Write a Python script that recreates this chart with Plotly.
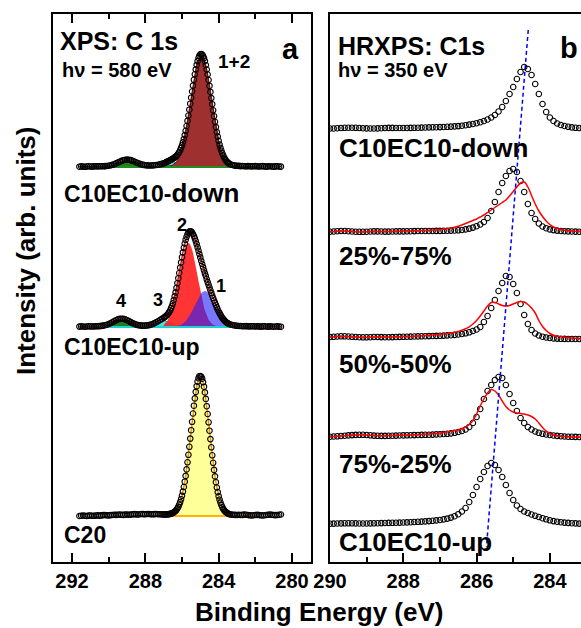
import plotly.graph_objects as go

FONT = "Liberation Sans, Arial, Helvetica, sans-serif"

# ---------------- panel a : binding-energy grid (eV) ----------------
E_LEFT = [291.6, 291.5, 291.4, 291.3, 291.2, 291.1, 291.0, 290.9, 290.8, 290.7,
          290.6, 290.5, 290.4, 290.3, 290.2, 290.1, 290.0, 289.9, 289.8, 289.7,
          289.6, 289.5, 289.4, 289.3, 289.2, 289.1, 289.0, 288.9, 288.8, 288.7,
          288.6, 288.5, 288.4, 288.3, 288.2, 288.1, 288.0, 287.9, 287.8, 287.7,
          287.6, 287.5, 287.4, 287.3, 287.2, 287.1]
E_MID = [287.0, 286.95, 286.9, 286.85, 286.8, 286.75, 286.7, 286.65, 286.6, 286.55, 286.5, 286.45,
         286.4, 286.35, 286.3, 286.25, 286.2, 286.15, 286.1, 286.05, 286.0, 285.95, 285.9, 285.85,
         285.8, 285.75, 285.7, 285.65, 285.6, 285.55, 285.5, 285.45, 285.4, 285.35, 285.3, 285.25,
         285.2, 285.15, 285.1, 285.05, 285.0, 284.95, 284.9, 284.85, 284.8, 284.75, 284.7, 284.65,
         284.6, 284.55, 284.5, 284.45, 284.4, 284.35, 284.3, 284.25, 284.2, 284.15, 284.1, 284.05,
         284.0, 283.95, 283.9, 283.85, 283.8, 283.75, 283.7, 283.65, 283.6, 283.55, 283.5, 283.45, 283.4]
E_RIGHT = [283.3, 283.2, 283.1, 283.0, 282.9, 282.8, 282.7, 282.6, 282.5, 282.4, 282.3, 282.2, 282.1, 282.0,
           281.9, 281.8, 281.7, 281.6, 281.5, 281.4, 281.3, 281.2, 281.1, 281.0, 280.9, 280.8, 280.7, 280.6]
E_A = E_LEFT + E_MID + E_RIGHT

# C10EC10-down (XPS, 580 eV)
DOWN_COUNTS = ([0.3, 0.6, 0.4, 0.2, 0.5, 0.7, 0.5, 0.4, 0.6, 0.8, 0.6, 0.7, 0.8, 0.7, 0.9, 1.0, 1.3, 1.7, 2.2, 2.8,
                3.6, 4.4, 5.3, 6.1, 6.8, 7.2, 7.4, 7.3, 6.9, 6.2, 5.5, 4.6, 3.8, 3.1, 2.5, 2.1, 1.8, 1.6, 1.5, 1.5,
                1.6, 1.8, 2.0, 2.3, 2.7, 3.1]
               + [3.6, 4.0, 4.4, 4.9, 5.4, 5.8, 6.3, 6.8, 7.3, 7.8, 8.3, 8.9, 9.6, 10.3, 11.1, 12.2, 13.5, 15.0, 16.8, 19.1,
                  21.6, 24.6, 28.0, 31.9, 36.2, 41.0, 46.1, 51.5, 57.3, 63.3, 69.3, 75.5, 81.4, 87.2, 92.7, 97.6, 102.1, 105.9,
                  109.0, 111.3, 112.6, 113.0, 112.5, 111.2, 108.9, 105.8, 102.0, 97.5, 92.5, 87.0, 81.1, 75.1, 68.9, 62.8,
                  56.7, 50.8, 45.2, 39.9, 34.9, 30.4, 26.2, 22.4, 19.1, 16.2, 13.6, 11.4, 9.5, 7.9, 6.5, 5.4, 4.5, 3.7, 3.1]
               + [2.3, 1.8, 1.4, 1.2, 1.1, 0.9, 1.0, 0.8, 0.7, 0.9, 0.8, 0.6, 0.8, 0.9, 0.7, 0.5, 0.7, 0.9, 0.6, 0.4,
                  0.6, 0.8, 0.5, 0.4, 0.6, 0.7, 0.5, 0.4])
DOWN_MAIN = [0.1, 0.2, 0.2, 0.3, 0.4, 0.5, 0.7, 0.9, 1.2, 1.6, 2.1, 2.7, 3.5, 4.4, 5.5, 6.9, 8.5, 10.4, 12.6, 15.2,
             18.1, 21.4, 25.2, 29.4, 33.9, 38.9, 44.2, 49.8, 55.7, 61.8, 67.9, 74.1, 80.1, 86.0, 91.5, 96.5, 101.0,
             104.8, 107.9, 110.2, 111.5, 112.0, 111.5, 110.2, 107.9, 104.8, 101.0, 96.5, 91.5, 86.0, 80.1, 74.1, 67.9,
             61.8, 55.7, 49.8, 44.2, 38.9, 33.9, 29.4, 25.2, 21.4, 18.1, 15.2, 12.6, 10.4, 8.5, 6.9, 5.5, 4.4, 3.5, 2.7, 2.1]
DOWN_GREEN = [0, 0, 0, 0, 0, 0, 0, 0, 0, 0, 0,
              0.03, 0.05, 0.1, 0.19, 0.33, 0.55, 0.88, 1.34, 1.94, 2.7, 3.5, 4.4, 5.2, 5.9, 6.35, 6.5, 6.35, 5.9,
              5.2, 4.4, 3.5, 2.7, 1.94, 1.34, 0.88, 0.55, 0.33, 0.19, 0.1, 0.05, 0.03,
              0, 0, 0, 0]
DOWN_CYAN = ([0, 0, 0, 0, 0, 0, 0, 0, 0, 0, 0, 0, 0, 0, 0, 0, 0, 0, 0, 0,
              0, 0, 0, 0, 0, 0, 0, 0, 0, 0, 0, 0, 0, 0, 0, 0, 0, 0, 0, 0,
              0.11, 0.22, 0.4, 0.68, 1.08, 1.63]
             + [2.3, 2.65, 3.0, 3.4, 3.8, 4.1, 4.4, 4.7, 4.85, 4.96, 5.0, 4.96, 4.85, 4.7, 4.4, 4.1, 3.8, 3.4, 3.0, 2.65,
                2.3, 1.95, 1.6, 1.3, 1.1, 0.86, 0.68, 0.52, 0.4, 0.3, 0.22, 0.16, 0.11,
                0, 0, 0, 0, 0, 0, 0, 0, 0, 0, 0, 0, 0, 0, 0, 0, 0, 0, 0, 0,
                0, 0, 0, 0, 0, 0, 0, 0, 0, 0, 0, 0, 0, 0, 0, 0, 0, 0, 0, 0])
DOWN_BG_RANGE = [291.1, 281.9]

# C10EC10-up (XPS, 580 eV) with components 1-4
UP_COUNTS = ([0.4, 0.6, 0.5, 0.3, 0.5, 0.7, 0.6, 0.5, 0.6, 0.7, 0.8, 0.9, 1.1, 1.4, 1.8, 2.3, 3.0, 3.8, 4.8, 5.8,
              6.8, 7.6, 8.1, 8.3, 8.1, 7.6, 6.8, 5.9, 4.9, 3.9, 3.1, 2.4, 1.9, 1.6, 1.4, 1.4, 1.4, 1.6, 1.9, 2.4,
              3.0, 3.9, 4.8, 5.8, 7.0, 8.1]
             + [9.2, 9.9, 10.5, 11.3, 12.3, 13.5, 14.8, 16.5, 18.6, 21.0, 23.7, 27.0, 30.7, 34.6, 39.1, 43.8, 48.8, 54.0,
                59.3, 64.6, 69.8, 74.6, 79.2, 83.5, 87.2, 90.2, 92.7, 94.4, 95.5, 95.8, 95.5, 94.5, 93.0, 91.0, 88.6, 85.8,
                82.8, 79.6, 76.3, 72.9, 69.6, 66.2, 63.0, 59.8, 56.7, 53.6, 50.8, 47.7, 44.9, 42.2, 39.5, 36.7, 34.1, 31.5,
                29.0, 26.5, 24.1, 21.8, 19.6, 17.5, 15.5, 13.8, 12.1, 10.5, 9.1, 7.9, 6.8, 5.9, 5.0, 4.3, 3.7, 3.2, 2.8]
             + [2.3, 1.8, 1.5, 1.2, 1.0, 1.0, 0.8, 0.8, 0.9, 0.7, 0.6, 0.8, 0.7, 0.5, 0.7, 0.6, 0.4, 0.6, 0.7, 0.5,
                0.4, 0.6, 0.5, 0.3, 0.5, 0.6, 0.4, 0.3])
UP_C2 = [2.2, 2.9, 3.7, 4.7, 6.0, 7.5, 9.2, 11.3, 13.9, 16.6, 19.8, 23.4, 27.3, 31.5, 36.1, 40.9, 45.9, 51.0, 56.0,
         61.0, 65.8, 70.1, 74.1, 77.5, 80.3, 82.3, 83.6, 84.0, 83.6, 82.3, 80.3, 77.5, 74.1, 70.1, 65.8, 61.0, 56.0,
         51.0, 45.9, 40.9, 36.1, 31.5, 27.3, 23.4, 19.8, 16.6, 13.9, 11.3, 9.2, 7.5, 6.0, 4.7, 3.7, 2.9, 2.2, 1.7, 1.3,
         0.9, 0.7, 0.5, 0.3, 0.25, 0.2, 0.1, 0, 0, 0, 0, 0, 0, 0, 0, 0]
UP_C1 = [0, 0, 0, 0, 0, 0.05, 0.1, 0.1, 0.1, 0.2, 0.2, 0.3, 0.4, 0.5, 0.7, 0.9, 1.1, 1.4, 1.8, 2.2, 2.7, 3.3, 4.0,
         4.9, 5.8, 6.9, 8.1, 9.4, 10.9, 12.5, 14.2, 16.0, 17.9, 19.9, 21.8, 23.8, 25.8, 27.6, 29.4, 31.0, 32.5, 33.7,
         34.7, 35.4, 35.9, 36.0, 35.9, 35.4, 34.7, 33.7, 32.5, 31.0, 29.4, 27.6, 25.8, 23.8, 21.8, 19.9, 17.9, 16.0,
         14.2, 12.5, 10.9, 9.4, 8.1, 6.9, 5.8, 4.9, 4.0, 3.3, 2.7, 2.2, 1.8]
UP_C3 = ([0, 0, 0, 0, 0, 0, 0, 0, 0, 0, 0, 0, 0, 0, 0, 0, 0, 0, 0, 0,
          0, 0, 0, 0, 0, 0, 0, 0, 0, 0, 0, 0, 0,
          0.03, 0.07, 0.14, 0.26, 0.48, 0.81, 1.3, 1.95, 2.75, 3.64, 4.53, 5.3, 5.81]
         + [6.0, 5.95, 5.8, 5.6, 5.3, 4.9, 4.5, 4.1, 3.6, 3.2, 2.7, 2.3, 1.95, 1.6, 1.3, 1.0, 0.8, 0.6, 0.5, 0.4,
            0.26, 0.2, 0.14, 0.1, 0.07,
            0, 0, 0, 0, 0, 0, 0, 0, 0, 0, 0, 0, 0, 0, 0, 0, 0, 0, 0, 0, 0, 0, 0, 0,
            0, 0, 0, 0, 0, 0, 0, 0, 0, 0, 0, 0, 0, 0, 0, 0, 0, 0, 0, 0, 0, 0, 0, 0])
UP_C4 = [0, 0, 0, 0, 0, 0, 0, 0,
         0.03, 0.06, 0.11, 0.21, 0.37, 0.63, 1.01, 1.55, 2.24, 3.08, 4.04, 5.05, 6.0, 6.8, 7.32, 7.5, 7.32, 6.8,
         6.0, 5.05, 4.04, 3.08, 2.24, 1.55, 1.01, 0.63, 0.37, 0.21, 0.11, 0.06, 0.03,
         0, 0, 0, 0, 0, 0, 0]
UP_BG_RANGE = [291.0, 281.9]

# C20 (XPS, 580 eV)
C20_COUNTS = ([0.0, 0.3, 0.5, 0.2, 0.0, 0.4, 0.5, 0.3, 0.2, 0.5, 0.6, 0.4, 0.6, 0.9, 1.0, 0.7, 0.6, 0.9, 1.0, 1.2,
               1.1, 1.3, 1.5, 1.2, 1.1, 1.4, 1.5, 1.3, 1.4, 1.7, 1.9, 1.6, 1.5, 1.8, 2.0, 1.9, 1.8, 2.0, 2.0, 1.8,
               1.7, 1.9, 2.0, 1.8, 1.8, 1.6]
              + [1.5, 1.5, 1.5, 1.6, 1.7, 1.8, 1.9, 2.1, 2.3, 2.6, 3.0, 3.6, 4.3, 5.1, 6.2, 7.6, 9.3, 11.4, 13.9, 16.8,
                 20.3, 24.4, 29.0, 34.3, 40.1, 46.6, 53.7, 61.2, 69.2, 77.4, 85.8, 94.2, 102.5, 110.3, 117.6, 124.1, 129.8,
                 134.4, 137.8, 139.8, 140.0, 139.3, 137.3, 133.9, 129.3, 123.6, 117.1, 109.8, 102.0, 93.7, 85.3, 76.9,
                 68.7, 60.7, 53.2, 46.1, 39.6, 33.8, 28.5, 23.9, 19.8, 16.3, 13.4, 10.9, 8.8, 7.1, 5.7, 4.6, 3.8, 3.1,
                 2.5, 2.1, 1.8]
              + [1.4, 1.3, 1.1, 1.0, 1.2, 1.0, 1.1, 1.5, 1.2, 1.0, 0.7, 0.5, 0.8, 1.0, 1.1, 1.0, 0.7, 0.5, 0.8, 1.0,
                 1.3, 1.5, 1.2, 1.0, 0.9, 1.0, 1.3, 1.5])
C20_FIT = [1.0, 1.0, 1.0, 1.1, 1.2, 1.3, 1.4, 1.6, 1.8, 2.1, 2.5, 3.1, 3.8, 4.6, 5.7, 7.1, 8.8, 10.9, 13.4, 16.3,
           19.8, 23.9, 28.5, 33.8, 39.6, 46.1, 53.2, 60.7, 68.7, 76.9, 85.3, 93.7, 102.0, 109.8, 117.1, 123.6, 129.3,
           133.9, 137.3, 139.3, 140.0, 139.3, 137.3, 133.9, 129.3, 123.6, 117.1, 109.8, 102.0, 93.7, 85.3, 76.9, 68.7,
           60.7, 53.2, 46.1, 39.6, 33.8, 28.5, 23.9, 19.8, 16.3, 13.4, 10.9, 8.8, 7.1, 5.7, 4.6, 3.8, 3.1, 2.5, 2.1, 1.8]
C20_BG_RANGE = [288.0, 281.9]

# ---------------- panel b : HRXPS, 350 eV ----------------
E_B = [290.0, 289.9, 289.8, 289.7, 289.6, 289.5, 289.4, 289.3, 289.2, 289.1, 289.0, 288.9, 288.8, 288.7, 288.6,
       288.5, 288.4, 288.3, 288.2, 288.1, 288.0, 287.9, 287.8, 287.7, 287.6, 287.5, 287.4, 287.3, 287.2, 287.1,
       287.0, 286.9, 286.8, 286.7, 286.6, 286.5, 286.4, 286.3, 286.2, 286.1, 286.0, 285.9, 285.8, 285.7, 285.6,
       285.5, 285.4, 285.3, 285.2, 285.1, 285.0, 284.9, 284.8, 284.7, 284.6, 284.5, 284.4, 284.3, 284.2, 284.1,
       284.0, 283.9, 283.8, 283.7, 283.6, 283.5, 283.4, 283.3, 283.2, 283.1, 283.0]
HR_DOWN = ([0.5, 0.5, 0.8, 1.0, 1.2, 1.3, 1.3, 1.2, 1.0, 0.8, 0.6, 0.5, 0.5, 0.6, 0.8, 1.0, 1.1, 1.1, 1.0, 1.0,
            1.0, 1.0, 1.1, 1.2, 1.3, 1.4, 1.5, 1.6, 1.7, 1.8, 1.9]
           + [2.0, 2.2, 2.4, 2.6, 2.9, 3.3, 3.8, 4.4, 5.0, 5.8, 6.8, 8.0, 9.5, 11.5, 14.0, 17.5, 22.0, 28.0, 35.0,
              42.0, 50.0, 57.0, 62.0, 60.0, 54.0, 45.0, 35.0, 25.0, 17.0, 11.5, 8.0, 5.5, 4.0, 3.0, 2.2, 1.6, 1.2,
              1.0, 0.9, 0.8])
HR_25 = ([0.3, 0.5, 0.8, 1.0, 1.0, 0.8, 0.5, 0.3, 0.2, 0.2, 0.3, 0.5, 0.6, 0.6, 0.5, 0.4, 0.4, 0.5, 0.6, 0.6,
          0.6, 0.7, 0.8, 0.9, 1.0, 1.0, 1.0, 1.0, 1.0, 1.1, 1.1]
         + [1.2, 1.3, 1.4, 1.5, 1.7, 2.0, 2.6, 3.4, 4.4, 5.8, 7.5, 10.0, 14.0, 21.0, 30.0, 40.0, 49.0, 56.0, 61.0,
            63.0, 60.0, 51.0, 40.0, 28.0, 19.0, 13.0, 8.5, 5.5, 3.8, 2.6, 1.9, 1.4, 1.0, 0.8, 0.6, 0.5, 0.4, 0.3,
            0.3, 0.3])
HR_25_SUM = ([0.3, 0.5, 0.7, 0.9, 0.9, 0.7, 0.4, 0.2, 0.1, 0.1, 0.2, 0.4, 0.5, 0.5, 0.5, 0.5, 0.5, 0.6, 0.7, 0.8,
              0.9, 1.0, 1.1, 1.2, 1.3, 1.4, 1.5, 1.7, 1.9, 2.1, 2.4]
             + [2.8, 3.3, 3.9, 4.7, 5.7, 7.0, 8.5, 10.0, 11.5, 13.0, 15.0, 17.0, 19.5, 22.0, 24.5, 27.0, 29.5, 32.0,
                36.0, 40.5, 45.0, 49.0, 50.0, 45.0, 36.5, 28.0, 21.0, 15.5, 11.0, 7.5, 5.0, 3.5, 2.5, 1.8, 1.3, 1.0,
                0.8, 0.7, 0.6, 0.6])
HR_50 = ([2.0, 2.2, 2.5, 2.7, 2.7, 2.5, 2.2, 2.0, 1.8, 1.7, 1.7, 1.8, 2.0, 2.0, 1.9, 1.8, 1.8, 1.9, 2.0, 2.1,
          2.2, 2.3, 2.4, 2.5, 2.6, 2.7, 2.8, 2.9, 3.0, 3.1, 3.2]
         + [3.4, 3.6, 3.8, 4.1, 4.5, 5.0, 5.7, 6.7, 8.0, 9.5, 12.0, 17.0, 23.0, 31.0, 39.0, 48.0, 56.0, 63.0, 62.0,
            55.0, 46.0, 35.0, 24.0, 15.0, 9.0, 5.5, 3.5, 2.3, 1.5, 1.0, 0.6, 0.4, 0.2, 0.1, 0.0, 0.0, 0.0, 0.0,
            0.0, 0.0])
HR_50_SUM = ([2.0, 2.2, 2.4, 2.6, 2.6, 2.4, 2.1, 1.9, 1.7, 1.6, 1.6, 1.8, 2.0, 2.0, 2.0, 2.0, 2.0, 2.1, 2.2, 2.3,
              2.4, 2.5, 2.6, 2.8, 3.0, 3.2, 3.4, 3.7, 4.0, 4.3, 4.6]
             + [5.0, 5.5, 6.0, 6.7, 7.5, 8.7, 10.2, 12.2, 15.0, 18.5, 23.0, 28.0, 33.0, 36.5, 36.5, 35.0, 33.5, 33.0,
                33.5, 35.0, 36.5, 37.5, 37.0, 34.5, 31.0, 26.0, 18.5, 12.5, 8.5, 5.5, 3.8, 2.8, 2.2, 1.8, 1.4, 1.0,
                0.7, 0.5, 0.4, 0.3])
HR_75 = ([0.3, 0.5, 0.7, 1.0, 1.3, 1.6, 1.9, 2.1, 2.2, 2.2, 2.0, 1.7, 1.4, 1.2, 1.1, 1.1, 1.2, 1.3, 1.4, 1.5,
          1.6, 1.7, 1.8, 1.9, 2.0, 2.1, 2.2, 2.3, 2.4, 2.6, 2.8]
         + [3.0, 3.2, 3.6, 4.2, 5.0, 6.0, 7.5, 10.0, 14.0, 20.0, 28.0, 38.0, 46.0, 52.0, 57.0, 60.0, 59.0, 52.0,
            43.0, 34.0, 26.0, 19.0, 14.0, 10.0, 7.5, 5.5, 4.2, 3.2, 2.5, 2.0, 1.5, 1.1, 0.8, 0.5, 0.3, 0.2, 0.1,
            0.0, 0.0, 0.0])
HR_75_SUM = ([0.3, 0.5, 0.7, 1.0, 1.3, 1.6, 1.9, 2.1, 2.2, 2.2, 2.0, 1.7, 1.4, 1.3, 1.3, 1.3, 1.4, 1.5, 1.6, 1.7,
              1.8, 1.9, 2.0, 2.2, 2.4, 2.6, 2.8, 3.0, 3.3, 3.6, 4.0]
             + [4.4, 4.9, 5.5, 6.2, 7.0, 8.2, 10.0, 12.5, 16.5, 23.0, 31.0, 38.0, 44.0, 47.5, 46.0, 42.0, 36.0, 30.5,
                27.0, 25.0, 24.0, 23.5, 23.0, 22.0, 20.5, 18.0, 14.0, 9.5, 6.0, 3.5, 2.0, 1.2, 0.7, 0.4, 0.2, 0.1,
                0.0, 0.0, 0.0, 0.0])
HR_UP = ([0.3, 0.4, 0.5, 0.6, 0.7, 0.7, 0.7, 0.6, 0.5, 0.5, 0.5, 0.6, 0.7, 0.8, 0.9, 1.0, 1.1, 1.2, 1.3, 1.4,
          1.5, 1.6, 1.8, 2.0, 2.2, 2.4, 2.6, 2.9, 3.2, 3.6, 4.0]
         + [4.6, 5.4, 6.4, 7.8, 9.8, 12.5, 16.0, 22.0, 29.0, 37.0, 45.0, 52.0, 58.0, 61.0, 59.0, 54.0, 47.0, 39.0,
            31.0, 24.0, 18.5, 15.0, 12.5, 11.0, 9.5, 8.2, 7.0, 5.8, 4.7, 3.7, 2.9, 2.3, 1.8, 1.4, 1.1, 0.8, 0.6,
            0.4, 0.3, 0.2])
# peak-shift guide (energy, level)
GUIDE_E = [284.59, 285.73]
GUIDE_Y = [532, 15]

# tick labels
A_TICKS = [292, 288, 284, 280]
B_TICKS = [290, 288, 286, 284]

# ---------------- layout constants ----------------
W, H = 581, 628
ML, MR, MT, MB = 53, 0, 14, 66
PW, PH = W - ML - MR, H - MT - MB
A_OFF = {"down": 395, "up": 235, "c20": 46}
B_OFF = {"down": 433, "25": 330, "50": 223, "75": 125, "up": 38}

fig = go.Figure()


def area(xs, vals, base, fill, edge, xa="x", ya="y", ew=1.0):
    xs = list(xs)
    fig.add_trace(go.Scatter(x=xs + xs[::-1], y=[base + v for v in vals] + [base] * len(xs),
                             mode="lines", fill="toself", fillcolor=fill, line=dict(width=0),
                             xaxis=xa, yaxis=ya, hoverinfo="skip", showlegend=False))
    if edge:
        fig.add_trace(go.Scatter(x=xs, y=[base + v for v in vals], mode="lines",
                                 line=dict(color=edge, width=ew), xaxis=xa, yaxis=ya,
                                 hoverinfo="skip", showlegend=False))


def line(xs, vals, base, color, width, xa="x", ya="y", dash=None, shape="linear"):
    fig.add_trace(go.Scatter(x=list(xs), y=[base + v for v in vals], mode="lines",
                             line=dict(color=color, width=width, dash=dash, shape=shape),
                             xaxis=xa, yaxis=ya, hoverinfo="skip", showlegend=False))


def circles(xs, vals, base, xa="x", ya="y", size=5.5):
    fig.add_trace(go.Scatter(x=list(xs), y=[base + v for v in vals], mode="markers",
                             marker=dict(symbol="circle-open", size=size, color="black",
                                         line=dict(width=1.1, color="black")),
                             xaxis=xa, yaxis=ya, hoverinfo="skip", showlegend=False))


GREEN, GREEN_E = "#1E7F1E", "#0E5E0E"
CYAN, CYAN_E = "#3FE6E6", "#12B5B5"

# --- C10EC10-down ---
b = A_OFF["down"]
area(E_LEFT, DOWN_GREEN, b, GREEN, GREEN_E)
area(E_LEFT + E_MID, DOWN_CYAN, b, CYAN, CYAN_E)
area(E_MID, DOWN_MAIN, b, "#9E3030", "#5E1010")
line(DOWN_BG_RANGE, [0, 0], b, "#1E8F1E", 2)
line(E_A, DOWN_COUNTS, b, "#5A1515", 1)
circles(E_A, DOWN_COUNTS, b)

# --- C10EC10-up ---
b = A_OFF["up"]
area(E_LEFT, UP_C4, b, GREEN, GREEN_E)
area(E_LEFT + E_MID, UP_C3, b, CYAN, CYAN_E)
area(E_MID, UP_C2, b, "rgba(255,25,25,0.88)", None)
area(E_MID, UP_C1, b, "rgba(30,30,255,0.6)", None)
line(UP_BG_RANGE, [0, 0], b, "#20D0D0", 2)
line(E_A, UP_COUNTS, b, "#C01818", 1.4)
circles(E_A, UP_COUNTS, b)

# --- C20 ---
b = A_OFF["c20"]
area(E_MID, C20_FIT, b, "#FFFF99", "#E39A00", ew=1.5)
line(C20_BG_RANGE, [0, 0], b, "#FFB300", 2)
circles(E_A, C20_COUNTS, b)

# --- panel b ---
for key, data, fit in [("down", HR_DOWN, None), ("25", HR_25, HR_25_SUM), ("50", HR_50, HR_50_SUM),
                       ("75", HR_75, HR_75_SUM), ("up", HR_UP, None)]:
    b = B_OFF[key]
    circles(E_B, data, b, "x2", "y2", size=5.5)
    if fit is not None:
        line(E_B, fit, b, "#FF0000", 1.5, "x2", "y2", shape="spline")
line(GUIDE_E, GUIDE_Y, 0, "#0000FF", 1.5, "x2", "y2", dash="4px,3px")

# ---------------- axes ----------------
tickfont = dict(family=FONT, size=20, color="black", weight="bold")
common_x = dict(showgrid=False, zeroline=False, showline=True, linewidth=2, linecolor="black",
                ticks="inside", ticklen=9, tickwidth=2, tickcolor="black", tickfont=tickfont,
                tickmode="array")
fig.update_layout(
    width=W, height=H, margin=dict(l=ML, r=MR, t=MT, b=MB),
    paper_bgcolor="white", plot_bgcolor="white", showlegend=False,
    xaxis=dict(domain=[0, (311 - ML) / PW], range=[293.04, 278.96],
               tickvals=A_TICKS, ticktext=[f"<b>{t}</b>" for t in A_TICKS],
               mirror="allticks", anchor="y",
               minor=dict(ticks="inside", ticklen=5, tickwidth=2, tickcolor="black", dtick=2, tick0=280),
               **common_x),
    xaxis2=dict(domain=[(330 - ML) / PW, 1], range=[290.0, 283.15],
                tickvals=B_TICKS, ticktext=[f"<b>{t}</b>" for t in B_TICKS],
                mirror=True, anchor="y2",
                minor=dict(ticks="inside", ticklen=5, tickwidth=2, tickcolor="black", dtick=1, tick0=283),
                **common_x),
    yaxis=dict(domain=[0, 1], range=[0, PH], showgrid=False, zeroline=False, showticklabels=False,
               ticks="", showline=True, mirror=True, linewidth=2, linecolor="black", anchor="x"),
    yaxis2=dict(domain=[0, 1], range=[0, PH], showgrid=False, zeroline=False, showticklabels=False,
                ticks="", showline=True, mirror=False, linewidth=2, linecolor="black", anchor="x2"),
)


def px_x(px):
    return (px - ML) / PW


def px_y(py):
    return (MT + PH - py) / PH


def label(text, px, py, size, xanchor="left", angle=0):
    fig.add_annotation(text=f"<b>{text}</b>", x=px_x(px), y=px_y(py), xref="paper", yref="paper",
                       xanchor=xanchor, yanchor="middle", showarrow=False, textangle=angle,
                       font=dict(family=FONT, size=size, color="black"))


# panel a texts
label("XPS: C 1s", 58, 41, 25)
label("hν = 580 eV", 60, 70, 20)
label("a", 290, 49, 29, "center")
label("1+2", 234, 61, 19, "center")
label("C10EC10-<span style='font-size:26px'>down</span>", 62, 193, 23)
label("2", 182, 225, 18, "center")
label("1", 221, 286, 18, "center")
label("3", 158, 300, 18, "center")
label("4", 121, 301, 18, "center")
label("C10EC10-up", 62, 347, 23)
label("C20", 62, 535, 23)
# panel b texts
label("HRXPS: C1s", 336, 46, 25)
label("hν = 350 eV", 336, 70, 20)
label("b", 569, 48, 29, "center")
label("C10EC10-down", 337, 148, 26)
label("25%-75%", 337, 256, 26)
label("50%-50%", 337, 364, 26)
label("75%-25%", 337, 464, 26)
label("C10EC10-up", 337, 542, 26)
# axis titles
label("Binding Energy (eV)", 319, 612, 26, "center")
label("Intensity (arb. units)", 26, 251, 26, "center", angle=-90)

fig.write_html("out.html")
